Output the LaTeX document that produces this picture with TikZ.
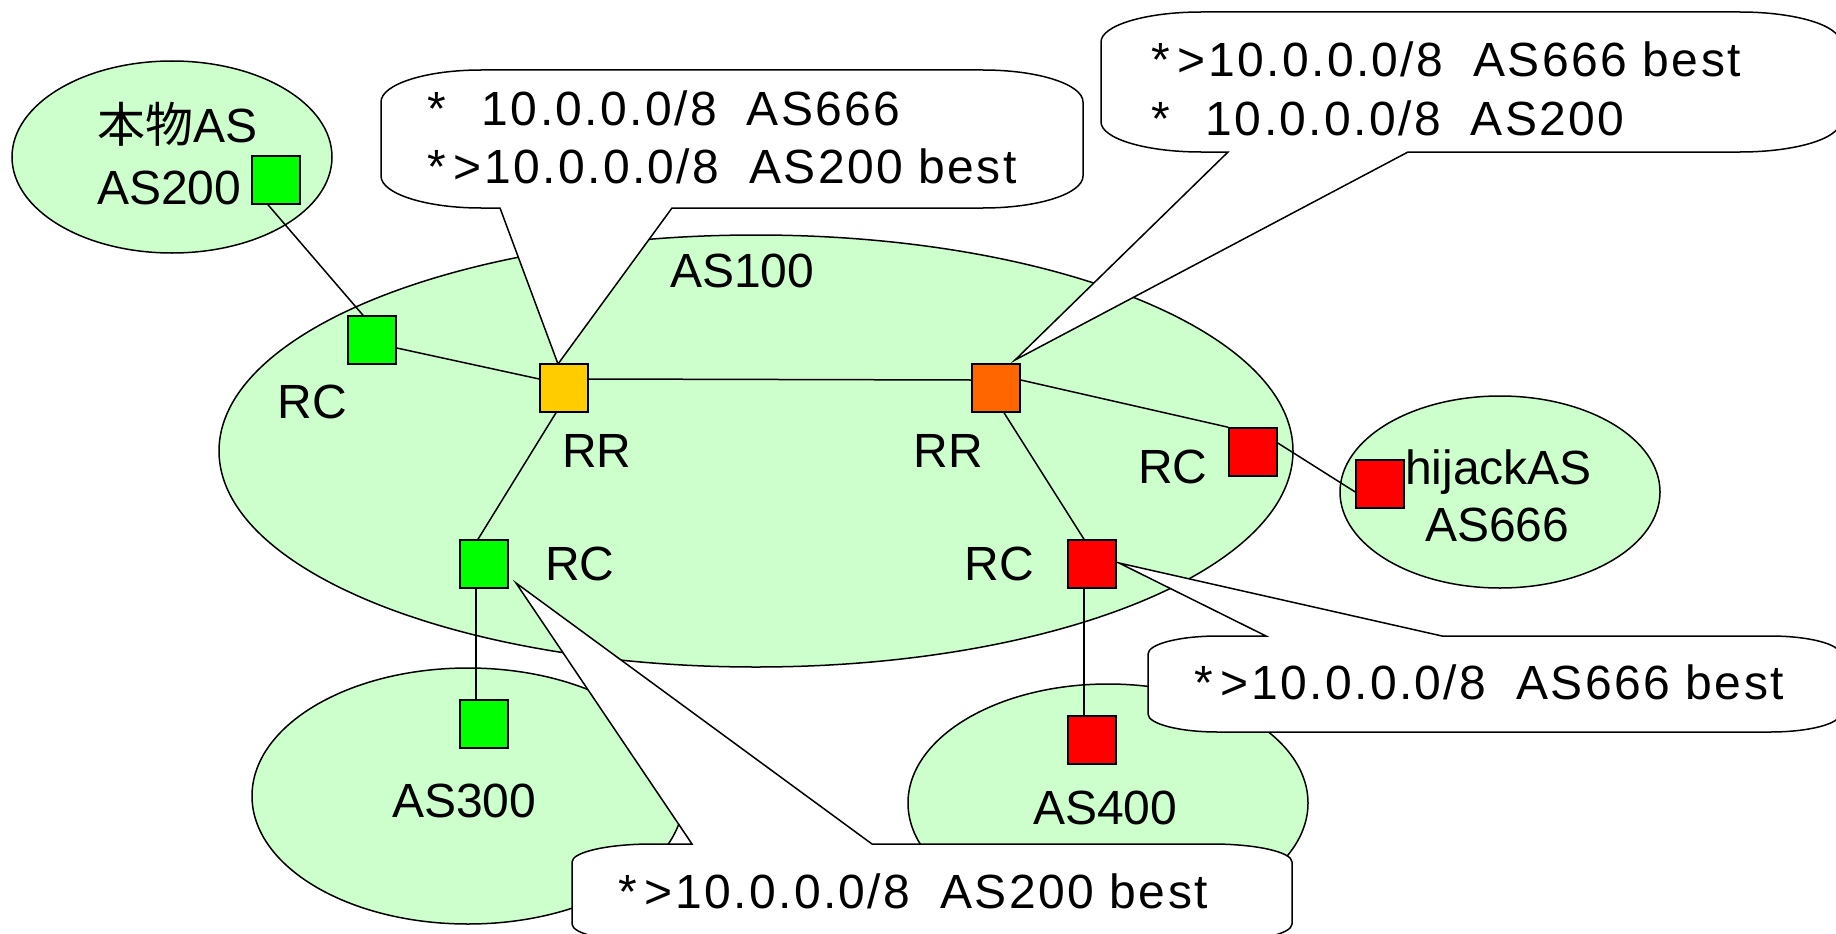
\documentclass[tikz,border=0pt]{standalone}
\usepackage{fontspec}
\setmainfont{Liberation Sans}
\newfontfamily\cjk{Noto Sans CJK JP}
\newfontfamily\callfont[LetterSpace=5]{Liberation Sans}
\usetikzlibrary{calc}
\definecolor{asfill}{HTML}{CCFFCC}
\definecolor{sqgreen}{HTML}{00FF00}
\definecolor{sqyellow}{HTML}{FFCC00}
\definecolor{sqorange}{HTML}{FF6600}
\definecolor{sqred}{HTML}{FF0000}
\tikzset{
  asell/.style={draw=black, fill=asfill, line width=1.5pt},
  sq/.style={draw=black, line width=1.5pt, minimum size=48pt, inner sep=0pt, shape=rectangle},
  link/.style={draw=black, line width=1.5pt},
  callout/.style={draw=black, fill=white, line width=1.5pt, line join=miter},
  lbl/.style={inner sep=0pt, font=\fontsize{48}{57}\selectfont},
  ctext/.style={inner sep=0pt, font=\fontsize{48}{57}\selectfont\callfont, anchor=base west},
}
\begin{document}
\begin{tikzpicture}[x=1pt,y=-1pt]
\clip (0,0) rectangle (1836,934);
% square centres
\coordinate (c200) at (276,180);
\coordinate (crcA) at (372,340);
\coordinate (crr1) at (564,388);
\coordinate (crr2) at (996,388);
\coordinate (crcE) at (1253,452);
\coordinate (c666) at (1380,484);
\coordinate (crcB) at (484,564);
\coordinate (crcD) at (1092,564);
\coordinate (c300) at (484,724);
\coordinate (c400) at (1092,740);
% AS regions
\draw[asell] (172,157) ellipse[x radius=160, y radius=96];
\draw[asell] (756,451) ellipse[x radius=537, y radius=216];
\draw[asell] (1500,492) ellipse[x radius=160, y radius=96];
\draw[asell] (468,796) ellipse[x radius=216, y radius=128];
\draw[asell] (1108,803) ellipse[x radius=200, y radius=119];
% callout 1 (top centre)
\draw[callout] (381,102) arc[start angle=180, end angle=270, x radius=100, y radius=32]
  -- (983,70) arc[start angle=270, end angle=360, x radius=100, y radius=32]
  -- (1083,176) arc[start angle=0, end angle=90, x radius=100, y radius=32]
  -- (672,208) -- ($(crr1)+(-6,-24)$) -- (500,208)
  -- (481,208) arc[start angle=90, end angle=180, x radius=100, y radius=32] -- cycle;
% callout 2 (top right)
\draw[callout] (1101,42) arc[start angle=180, end angle=270, x radius=100, y radius=30]
  -- (1740,12) arc[start angle=270, end angle=360, x radius=100, y radius=30]
  -- (1840,122) arc[start angle=0, end angle=90, x radius=100, y radius=30]
  -- (1408,152) -- ($(crr2)+(19,-28)$) -- (1228,152)
  -- (1201,152) arc[start angle=90, end angle=180, x radius=100, y radius=30] -- cycle;
% callout 3 (right middle)
\draw[callout] (1148,654) arc[start angle=180, end angle=270, x radius=70, y radius=18]
  -- (1266,636) -- ($(crcD)+(27,-1)$) -- (1442,636)
  -- (1770,636) arc[start angle=270, end angle=360, x radius=70, y radius=18]
  -- (1840,714) arc[start angle=0, end angle=90, x radius=70, y radius=18]
  -- (1218,732) arc[start angle=90, end angle=180, x radius=70, y radius=18] -- cycle;
% callout 4 (bottom)
\draw[callout] (572,862) arc[start angle=180, end angle=270, x radius=80, y radius=18]
  -- (692,844) -- ($(crcB)+(32,19)$) -- (872,844)
  -- (1212,844) arc[start angle=270, end angle=360, x radius=80, y radius=18]
  -- (1292,924) arc[start angle=0, end angle=90, x radius=80, y radius=18]
  -- (652,942) arc[start angle=90, end angle=180, x radius=80, y radius=18] -- cycle;
% routers
\node[sq, fill=sqgreen] (s200) at (c200) {};
\node[sq, fill=sqgreen] (rcA) at (crcA) {};
\node[sq, fill=sqyellow] (rr1) at (crr1) {};
\node[sq, fill=sqorange] (rr2) at (crr2) {};
\node[sq, fill=sqred] (rcE) at (crcE) {};
\node[sq, fill=sqred] (s666) at (c666) {};
\node[sq, fill=sqgreen] (rcB) at (crcB) {};
\node[sq, fill=sqred] (rcD) at (crcD) {};
\node[sq, fill=sqgreen] (s300) at (c300) {};
\node[sq, fill=sqred] (s400) at (c400) {};
% links
\draw[link] ($(s200.south)+(-8,0)$) -- ($(rcA.north)+(-9,0)$);
\draw[link] ($(rcA.east)+(0,8)$) -- ($(rr1.west)+(0,-9)$);
\draw[link] ($(rr1.east)+(0,-9)$) -- ($(rr2.west)+(0,-8)$);
\draw[link] ($(rr2.east)+(0,-8)$) -- (rcE.north west);
\draw[link] ($(rcE.east)+(0,-9)$) -- ($(s666.west)+(0,8)$);
\draw[link] ($(rr1.south)+(-8,0)$) -- ($(rcB.north)+(-6,0)$);
\draw[link] ($(rr2.south)+(8,0)$) -- ($(rcD.north)+(-8,0)$);
\draw[link] ($(rcB.south)+(-8,0)$) -- ($(s300.north)+(-8,0)$);
\draw[link] ($(rcD.south)+(-8,0)$) -- ($(s400.north)+(-8,0)$);
% labels
\node[lbl, anchor=base west] (t200a) at (97,142) {{\cjk 本物}AS};
\node[lbl, anchor=base west] (t200b) at (97,204) {AS200};
\node[lbl, anchor=base west] (t100) at (670,287) {AS100};
\node[lbl, anchor=base east] (lrcA) at (347,418) {RC};
\node[lbl, anchor=base west] (lrr1) at (562,467) {RR};
\node[lbl, anchor=base east] (lrr2) at (983,467) {RR};
\node[lbl, anchor=base west] (lrcE) at (1138,483) {RC};
\node[lbl, anchor=base west] (lrcB) at (545,580) {RC};
\node[lbl, anchor=base east] (lrcD) at (1034,580) {RC};
\node[lbl, anchor=base west] (thj) at (1405,484) {hijackAS};
\node[lbl, anchor=base west] (t666) at (1425,541) {AS666};
\node[lbl, anchor=base west] (t300) at (392,817) {AS300};
\node[lbl, anchor=base west] (t400) at (1033,824) {AS400};
% callout texts
\node[ctext] (c1a) at (427,125) {*\hspace{8pt}\phantom{>}10.0.0.0/8\hspace{30pt}AS666};
\node[ctext] (c1b) at (427,183) {*\hspace{8pt}>10.0.0.0/8\hspace{30pt}AS200 best};
\node[ctext] (c2a) at (1151,77) {*\hspace{8pt}>10.0.0.0/8\hspace{30pt}AS666 best};
\node[ctext] (c2b) at (1151,135) {*\hspace{8pt}\phantom{>}10.0.0.0/8\hspace{30pt}AS200};
\node[ctext] (c3) at (1194,699) {*\hspace{8pt}>10.0.0.0/8\hspace{30pt}AS666 best};
\node[ctext] (c4) at (618,908) {*\hspace{8pt}>10.0.0.0/8\hspace{30pt}AS200 best};
\end{tikzpicture}
\end{document}
